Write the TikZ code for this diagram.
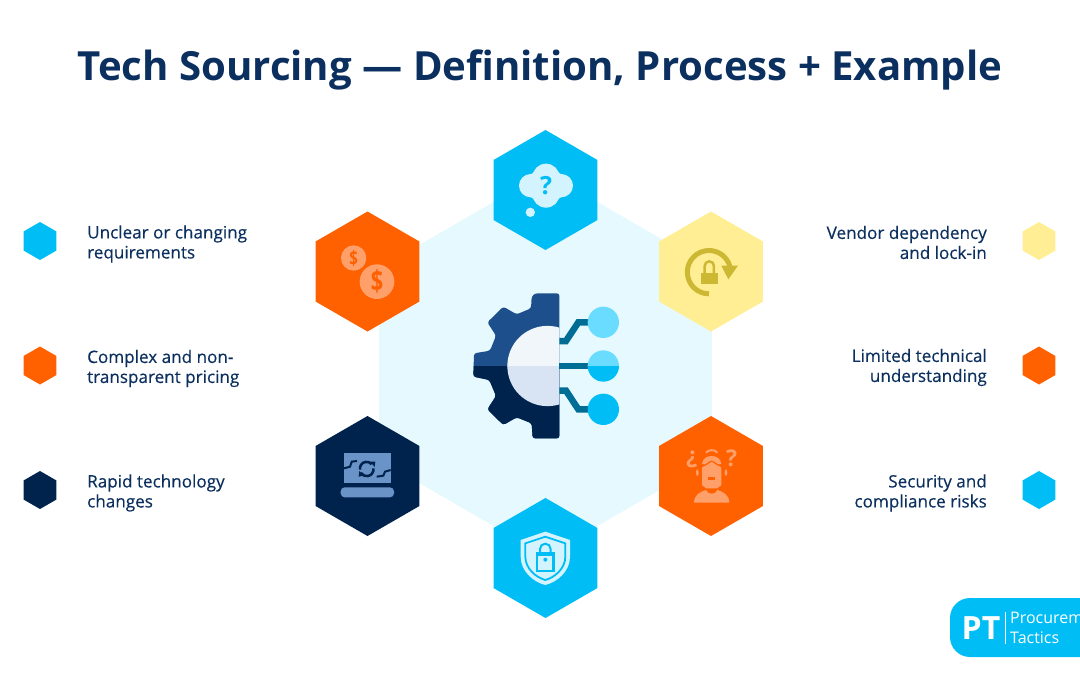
\documentclass[tikz,border=0pt]{standalone}
\usepackage{fontspec}
\setmainfont{Open Sans}
\newfontfamily\labelfont[FakeBold=0.35]{Open Sans}
\usetikzlibrary{shapes.geometric}
\usetikzlibrary{math}
\definecolor{navy}{HTML}{0B2F5E}
\definecolor{skyhex}{HTML}{00BDF5}
\definecolor{orangehex}{HTML}{FF6000}
\definecolor{yellowhex}{HTML}{FFEE94}
\definecolor{darkhex}{HTML}{00234D}
\definecolor{palehex}{HTML}{E6F9FE}
\definecolor{paleicon}{HTML}{D3F3FF}
\definecolor{peach}{HTML}{FFA06B}
\definecolor{lockgold}{HTML}{CDB834}
\definecolor{laptopblue}{HTML}{6A93C8}
\definecolor{gearblue}{HTML}{1D4F8C}
\definecolor{innertop}{HTML}{F0F6FA}
\definecolor{innerlow}{HTML}{D8E4F3}
\definecolor{linkteal}{HTML}{006E94}
\definecolor{dotlight}{HTML}{6ADCFF}
\tikzset{hex/.style={regular polygon, regular polygon sides=6, shape border rotate=30, minimum size=#1, inner sep=0pt, outer sep=0pt},hex/.default={120pt},
	mark hex/.style={hex=38pt},
	leftlabel/.style={anchor=west, align=left, inner sep=0pt, text=navy, font=\labelfont\fontsize{17.1}{20}\selectfont},
	rightlabel/.style={anchor=east, align=right, inner sep=0pt, text=navy, font=\labelfont\fontsize{17.1}{20}\selectfont},
	glyph/.style={inner sep=0pt, font=\bfseries\fontsize{#1}{#1}\selectfont},
	link/.style={draw=linkteal, line width=6.5pt}}
\newcommand{\gearoutline}{(298,40) -- (225,40) -- (215,50) -- (213,85) -- (170,103) -- (130,80) -- (82,127) -- (108,167) -- (90,212) -- (42,220) -- (40,290) -- (88,300) -- (108,348) -- (82,388) -- (130,435) -- (170,412) -- (215,430) -- (218,475) -- (298,475) -- cycle}
\begin{document}
\begin{tikzpicture}[x=1pt,y=-1pt]
	\tikzmath{\cx=545.5; \lx=367.5; \rx=711; \ra=241; \rb=365.5; \rc=490; \ml=40; \mr=1039;}
	\useasboundingbox (0,0) rectangle (1080,675);
	\clip (0,0) rectangle (1080,675);
	\node[text=navy, font=\bfseries\fontsize{40.15}{44}\selectfont] (title) at (540,70) {Tech Sourcing — Definition, Process + Example};
	% big background hexagon
	\node[hex=384pt, fill=palehex] (bighex) at (\cx,364) {};
	% six icon hexagons
	\node[hex, fill=skyhex] (hexcloud) at (\cx,190) {};
	\node[hex, fill=orangehex] (hexcoins) at (\lx,271.5) {};
	\node[hex, fill=yellowhex] (hexlock) at (\rx,271.5) {};
	\node[hex, fill=darkhex] (hexlaptop) at (\lx,476) {};
	\node[hex, fill=orangehex] (hexperson) at (\rx,476) {};
	\node[hex, fill=skyhex] (hexshield) at (\cx,558) {};
	% legend left
	\node[mark hex, fill=skyhex] (markreq) at (\ml,\ra) {};
	\node[mark hex, fill=orangehex] (markprice) at (\ml,\rb) {};
	\node[mark hex, fill=darkhex] (markrapid) at (\ml,\rc) {};
	\node[leftlabel] (labreq) at (87,244) {Unclear or changing\\requirements};
	\node[leftlabel] (labprice) at (87,368.5) {Complex and non-\\transparent pricing};
	\node[leftlabel] (labrapid) at (87,493) {Rapid technology\\changes};
	% legend right
	\node[mark hex, fill=yellowhex] (markvendor) at (\mr,\ra) {};
	\node[mark hex, fill=orangehex] (marklimit) at (\mr,\rb) {};
	\node[mark hex, fill=skyhex] (marksec) at (\mr,\rc) {};
	\node[rightlabel] (labvendor) at (987,242.5) {Vendor dependency\\and lock-in};
	\node[rightlabel] (lablimit) at (987,367.5) {Limited technical\\understanding};
	\node[rightlabel] (labsec) at (987,493) {Security and\\compliance risks};
	% gear
	\begin{scope}[shift={(460,280)},scale=1/3]
		\fill[gearblue, rounded corners=2.5pt] \gearoutline;
		\begin{scope}
			\clip (0,258) rectangle (298,500);
			\fill[darkhex, rounded corners=2.5pt] \gearoutline;
		\end{scope}
		\begin{scope}
			\clip (100,100) rectangle (298,258);
			\fill[innertop] (262.4,258) circle (120.4);
		\end{scope}
		\begin{scope}
			\clip (100,258) rectangle (298,400);
			\fill[innerlow] (262.4,258) circle (120.4);
		\end{scope}
		\draw[link] (298,183) -- (318,183) -- (355,127) -- (390,127);
		\draw[link] (298,258) -- (390,258);
		\draw[link] (298,332) -- (318,332) -- (355,388) -- (390,388);
		\fill[dotlight] (430,127) circle (47);
		\fill[dotlight] (383,258) arc (180:360:47) -- cycle;
		\fill[skyhex] (383,258) arc (180:0:47) -- cycle;
		\fill[skyhex] (430,388) circle (47);
	\end{scope}
	% cloud icon
	\begin{scope}[shift={(300,120)},scale=1/3]
		\fill[paleicon] (738,172) circle (41);
		\fill[paleicon] (738,222) circle (41);
		\fill[paleicon] (738,197) ellipse (62 and 50);
		\fill[paleicon] (692,197) circle (35);
		\fill[paleicon] (784,197) circle (35);
		\fill[paleicon] (691,277) circle (14);
		\node[glyph=25, text=skyhex] (qmark) at (738,197) {?};
	\end{scope}
	% coins icon
	\begin{scope}[shift={(300,120)},scale=1/3]
		\fill[peach] (161,414) circle (38);
		\fill[peach] (231,485) circle (52);
		\node[glyph=20, text=orangehex, xscale=0.75] (dollara) at (161,414) {\$};
		\node[glyph=29, text=orangehex, xscale=0.75] (dollarb) at (231,485) {\$};
	\end{scope}
	% lock icon
	\begin{scope}[shift={(300,120)},scale=1/3]
		\draw[lockgold, line width=5pt] (1227,521.5) arc (90:345:65);
		\fill[lockgold] (1264,437) -- (1314,437) -- (1285,478) -- cycle;
		\fill[lockgold] (1202,459) rectangle (1254,493);
		\draw[lockgold, line width=2.5pt] (1214,459) -- (1214,438) arc (180:360:14) -- (1242,459);
	\end{scope}
	% laptop icon
	\begin{scope}[shift={(335,445)},scale=1/3]
		\fill[laptopblue] (27,25) rectangle (167,115);
		\fill[laptopblue, rounded corners=4pt] (17,127) rectangle (177,157);
		\begin{scope}[darkhex, line width=2pt]
			\draw (27,70) -- (45,65) -- (50,50) -- (66,48);
			\draw (125,95) -- (145,92) -- (150,80) -- (167,75);
			\draw[line width=2.5pt] (75,74) arc (170:320:20);
			\draw[line width=2.5pt] (115,70) arc (-10:150:20);
			\fill (106,50) -- (121,50) -- (119,66) -- cycle;
			\fill (73,78) -- (87,92) -- (71,95) -- cycle;
		\end{scope}
	\end{scope}
	% shield icon
	\begin{scope}[shift={(515,525)},scale=1/3]
		\fill[paleicon] (91,20) -- (165,45) -- (165,95) .. controls (165,140) and (125,172) .. (91,180) .. controls (57,172) and (17,140) .. (17,95) -- (17,45) -- cycle;
		\draw[skyhex, line width=1.8pt] (91,35) -- (151,55) -- (151,95) .. controls (151,130) and (120,157) .. (91,165) .. controls (62,157) and (31,130) .. (31,95) -- (31,55) -- cycle;
		\fill[skyhex] (62,82) rectangle (120,142);
		\fill[paleicon] (70,92) rectangle (112,134);
		\draw[skyhex, line width=2pt] (75,82) -- (75,72) arc (180:360:16) -- (107,82);
		\fill[skyhex] (91,104) circle (6);
	\end{scope}
	% person icon
	\begin{scope}[shift={(680,440)},scale=1/3]
		\fill[peach, rounded corners=6pt] (66,70) -- (66,118) .. controls (66,135) and (80,145) .. (95,145) .. controls (110,145) and (124,135) .. (124,118) -- (124,70) -- cycle;
		\fill[peach] (66,72) .. controls (68,40) and (122,40) .. (124,72) -- cycle;
		\draw[orangehex, line width=1.2pt] (60,80) .. controls (85,76) and (85,64) .. (95,64) .. controls (105,64) and (105,76) .. (130,80);
		\draw[peach, line width=2pt] (78,38) .. controls (85,28) and (105,28) .. (112,38);
		\fill[peach] (52,98) ellipse (4 and 10);
		\fill[peach] (138,98) ellipse (4 and 10);
		\fill[orangehex] (85,112) rectangle (105,119);
		\fill[peach] (42,188) .. controls (42,165) and (60,155) .. (78,150) .. controls (82,165) and (108,165) .. (112,150) .. controls (130,155) and (148,165) .. (148,188) -- cycle;
		\node[glyph=23, text=peach] (invq) at (35,58) {¿};
		\node[glyph=23, text=peach] (perq) at (155,55) {?};
	\end{scope}
	% logo corner
	\fill[skyhex, rounded corners=20pt] (950,598) rectangle (1110,657);
	\node[glyph=32, text=white] (logopt) at (981,628.5) {PT};
	\coordinate (logotop) at (1005,612);
	\coordinate (logolow) at (1005,644);
	\draw[white, line width=0.8pt] (logotop) -- (logolow);
	\node[anchor=west, inner sep=0pt, text=white, font=\fontsize{16}{20}\selectfont] (logoa) at (1010,618) {Procurement};
	\node[anchor=west, inner sep=0pt, text=white, font=\fontsize{16}{20}\selectfont] (logob) at (1010,638) {Tactics};
\end{tikzpicture}
\end{document}
